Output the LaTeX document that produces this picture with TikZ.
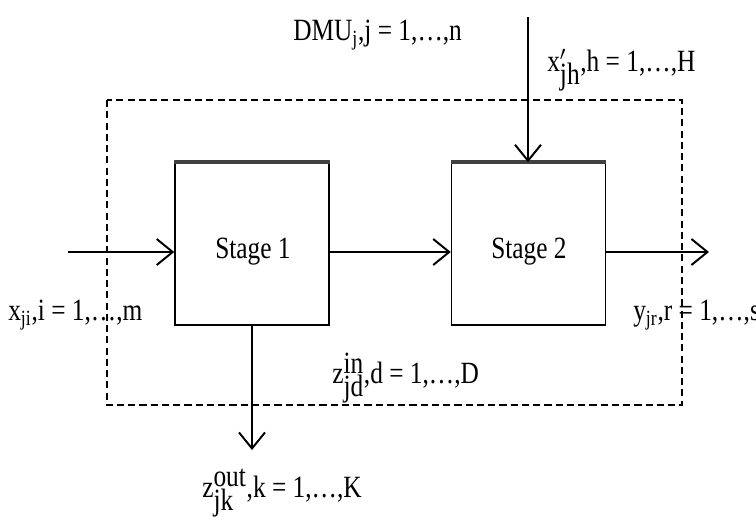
\documentclass[tikz,border=0pt]{standalone}
\usepackage{fontspec}
\setmainfont{Liberation Serif}[FakeStretch=0.82]
\usepackage{tikz}
\usetikzlibrary{arrows.meta}

\begin{document}
\begin{tikzpicture}[x=0.025cm, y=-0.025cm, >={Straight Barb[length=4mm,width=6.5mm]},
	every node/.style = {font=\fontsize{22}{26}\selectfont},
	stage/.style = {draw, line width=1pt, minimum width=3.85cm, minimum height=4.05cm, inner sep=0},
	lbl/.style = {anchor=west, inner sep=0},
	flow/.style = {->, line width=1.4pt}]
	\useasboundingbox (0,0) rectangle (756,516);
	\draw[line width=1.2pt, dash pattern=on 5pt off 3pt] (107,100) rectangle (682,405);
	\node[stage] (S1) at (252,244){};
	\node[stage] (S2) at (528.5,244){};
	\draw[line width=2.8pt, black!75] (S1.north west) -- (S1.north east);
	\draw[line width=2.8pt, black!75] (S2.north west) -- (S2.north east);
	\node (L1) at (253,252){Stage 1};
	\node (L2) at (529,252){Stage 2};
	\coordinate (xin) at (68,252);
	\coordinate (yout) at (709,252);
	\coordinate (xtop) at (528,17);
	\coordinate (zout) at (252,450);
	\draw[flow] (xin) -- (xin -| S1.west);
	\draw[flow] (S1.east |- xin) -- (S2.west |- xin);
	\draw[flow] (S2.east |- xin) -- (yout);
	\draw[flow] (xtop) -- (xtop |- S2.north);
	\draw[flow] (S1.south) -- (zout);
	\node[lbl] (dmu) at (293,35){DMU\textsubscript{j},j = 1,\dots,n};
	\node[lbl] (xh) at (547,70){x$'_{\textrm{jh}}$,h = 1,\dots,H};
	\node[lbl] (xi) at (8,315){x\textsubscript{ji},i = 1,\dots,m};
	\node[lbl] (yr) at (633,315){y\textsubscript{jr},r = 1,\dots,s};
	\node[lbl] (zin) at (332,378){z$^{\textrm{in}}_{\textrm{jd}}$,d = 1,\dots,D};
	\node[lbl] (zo) at (202,493){z$^{\textrm{out}}_{\textrm{jk}}$,k = 1,\dots,K};
\end{tikzpicture}
\end{document}
